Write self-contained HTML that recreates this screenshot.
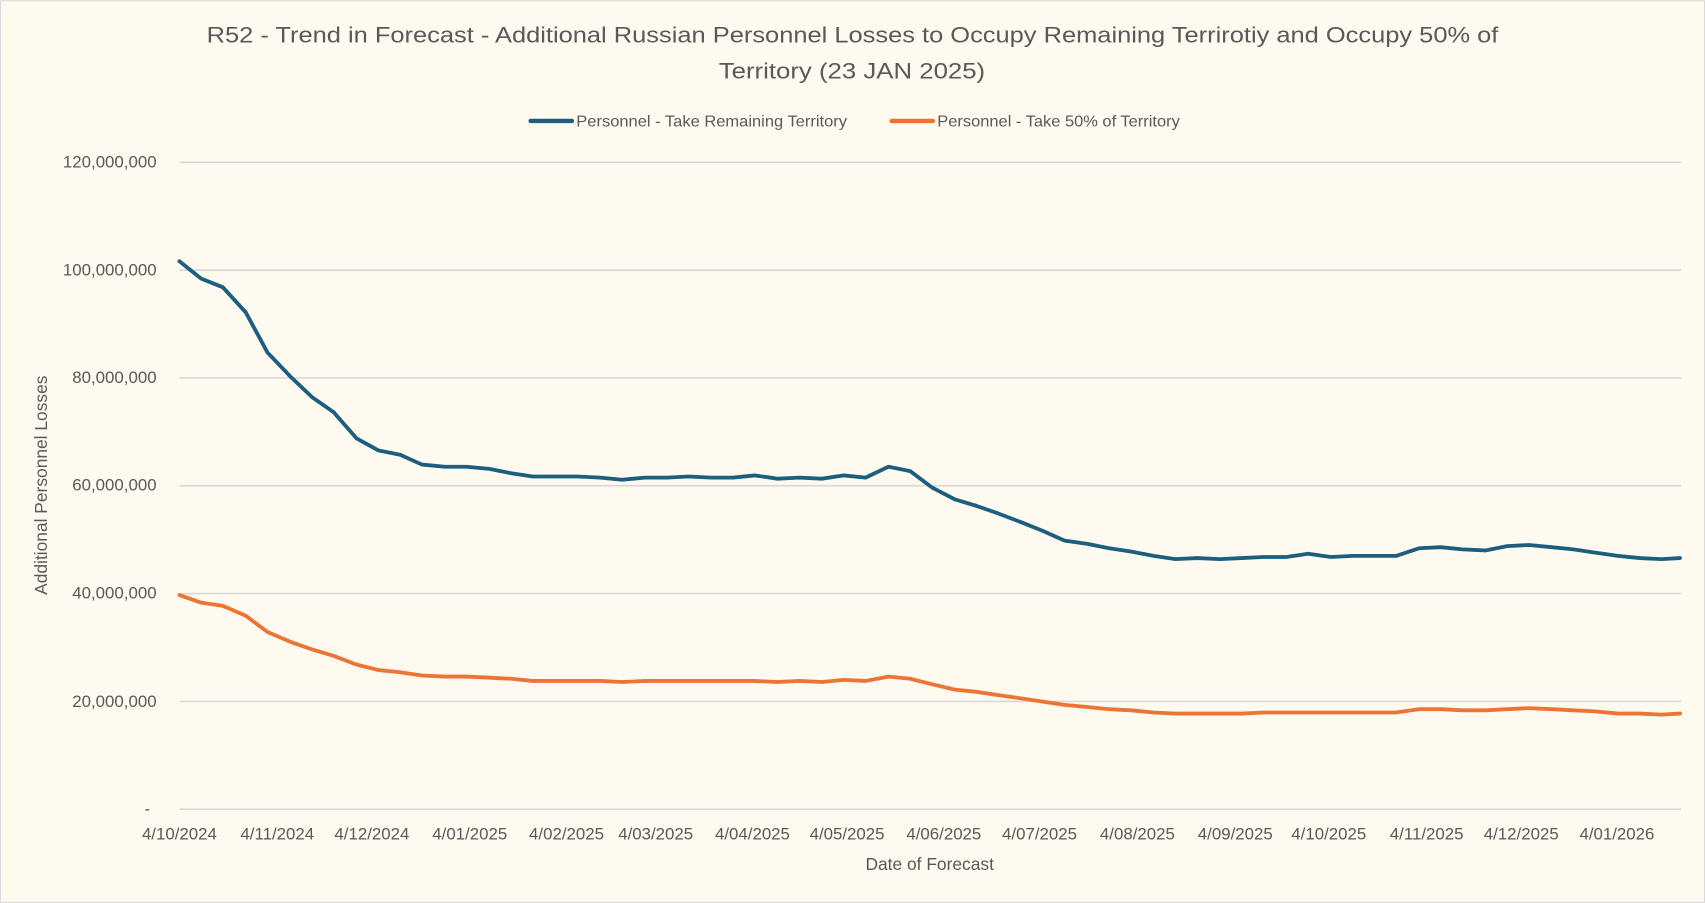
<!DOCTYPE html>
<html><head><meta charset="utf-8"><style>
html,body{margin:0;padding:0;background:#fefaef;}
svg{display:block;}
text{font-family:"Liberation Sans",sans-serif;}
</style></head><body>
<svg width="1705" height="903" viewBox="0 0 1568 830" xmlns="http://www.w3.org/2000/svg">
<rect x="0.5" y="0.5" width="1567" height="829" fill="#fefaef" stroke="#d9d9d9"/>
<text x="190" y="39" font-size="20.5" fill="#595959" textLength="1188" lengthAdjust="spacingAndGlyphs">R52 - Trend in Forecast - Additional Russian Personnel Losses to Occupy Remaining Terrirotiy and Occupy 50% of</text>
<text x="661" y="72" font-size="20.5" fill="#595959" textLength="245" lengthAdjust="spacingAndGlyphs">Territory  (23 JAN 2025)</text>
<line x1="488" y1="111" x2="526" y2="111" stroke="#1b5e80" stroke-width="4" stroke-linecap="round"/>
<text x="530" y="116" font-size="14" fill="#595959" textLength="249" lengthAdjust="spacingAndGlyphs">Personnel - Take Remaining Territory</text>
<line x1="820" y1="111" x2="858" y2="111" stroke="#ec7434" stroke-width="4" stroke-linecap="round"/>
<text x="862" y="116" font-size="14" fill="#595959" textLength="223" lengthAdjust="spacingAndGlyphs">Personnel - Take 50% of Territory</text>
<g stroke="#d9d9d9" stroke-width="1.5">
<line x1="165" y1="149" x2="1546" y2="149"/><line x1="165" y1="248.2" x2="1546" y2="248.2"/>
<line x1="165" y1="347.3" x2="1546" y2="347.3"/><line x1="165" y1="446.5" x2="1546" y2="446.5"/>
<line x1="165" y1="545.7" x2="1546" y2="545.7"/><line x1="165" y1="644.8" x2="1546" y2="644.8"/>
<line x1="165" y1="744" x2="1546" y2="744"/>
</g>
<g font-size="15.5" fill="#595959" text-anchor="end">
<text x="144" y="154">120,000,000</text><text x="144" y="253">100,000,000</text>
<text x="144" y="352">80,000,000</text><text x="144" y="451">60,000,000</text>
<text x="144" y="550">40,000,000</text><text x="144" y="650">20,000,000</text>
<text x="138" y="749">-</text>
</g>
<g font-size="15.5" fill="#595959" text-anchor="middle">
<text x="165" y="772">4/10/2024</text><text x="255" y="772">4/11/2024</text><text x="342" y="772">4/12/2024</text>
<text x="432" y="772">4/01/2025</text><text x="521" y="772">4/02/2025</text><text x="603" y="772">4/03/2025</text>
<text x="692" y="772">4/04/2025</text><text x="779" y="772">4/05/2025</text><text x="868" y="772">4/06/2025</text>
<text x="956" y="772">4/07/2025</text><text x="1046" y="772">4/08/2025</text><text x="1136" y="772">4/09/2025</text>
<text x="1222" y="772">4/10/2025</text><text x="1312" y="772">4/11/2025</text><text x="1399" y="772">4/12/2025</text>
<text x="1487" y="772">4/01/2026</text>
<text x="855" y="800" font-size="16">Date of Forecast</text>
</g>
<text transform="translate(43,446) rotate(-90)" font-size="16" fill="#595959" text-anchor="middle">Additional Personnel Losses</text>
<polyline fill="none" stroke="#1b5e80" stroke-width="3.5" stroke-linejoin="round" stroke-linecap="round" points="165,240 185,256 205,264 226,287 246,324 267,346 287,365 307,379 328,403 348,414 368,418 388,427 409,429 429,429 450,431 470,435 490,438 511,438 531,438 552,439 572,441 593,439 613,439 633,438 654,439 674,439 694,437 715,440 735,439 756,440 776,437 796,439 817,429 837,433 857,448 878,459 898,465 918,472 939,480 959,488 979,497 1000,500 1020,504 1040,507 1061,511 1081,514 1101,513 1122,514 1142,513 1162,512 1183,512 1203,509 1224,512 1244,511 1264,511 1284,511 1305,504 1325,503 1345,505 1366,506 1386,502 1406,501 1427,503 1447,505 1467,508 1488,511 1508,513 1528,514 1545,513"/>
<polyline fill="none" stroke="#ec7434" stroke-width="3.5" stroke-linejoin="round" stroke-linecap="round" points="165,547 185,554 205,557 226,566 246,581 267,590 287,597 307,603 328,611 348,616 368,618 388,621 409,622 429,622 450,623 470,624 490,626 511,626 531,626 552,626 572,627 593,626 613,626 633,626 654,626 674,626 694,626 715,627 735,626 756,627 776,625 796,626 817,622 837,624 857,629 878,634 898,636 918,639 939,642 959,645 979,648 1000,650 1020,652 1040,653 1061,655 1081,656 1101,656 1122,656 1142,656 1162,655 1183,655 1203,655 1224,655 1244,655 1264,655 1284,655 1305,652 1325,652 1345,653 1366,653 1386,652 1406,651 1427,652 1447,653 1467,654 1488,656 1508,656 1528,657 1545,656"/>
</svg>
</body></html>
